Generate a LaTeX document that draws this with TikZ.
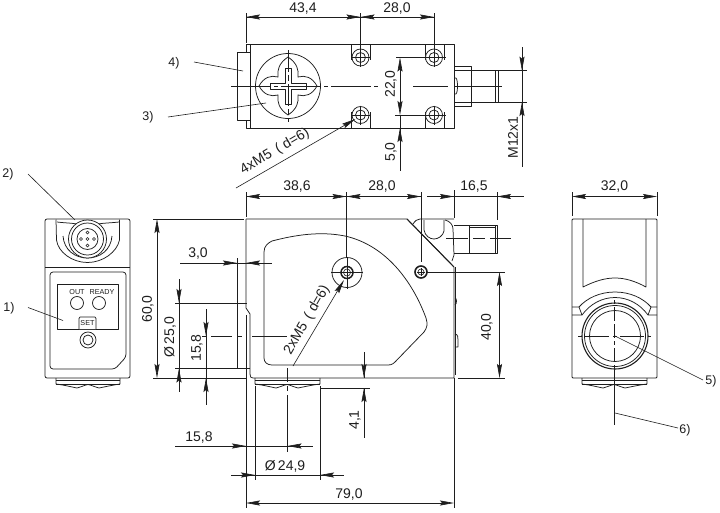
\documentclass[tikz,border=0pt]{standalone}
\usepackage{fontspec}
\setmainfont{Liberation Sans}
\usetikzlibrary{arrows.meta}
\definecolor{ink}{HTML}{1E1E1E}
\tikzset{
  part/.style={draw=ink,line width=.75pt,line join=round},
  dimline/.style={draw=ink,line width=.6pt},
  tipline/.style={draw=ink,line width=.6pt,-{Stealth[length=14pt,width=5pt,inset=2pt]}},
  twotip/.style={draw=ink,line width=.6pt,{Stealth[length=14pt,width=5pt,inset=2pt]}-{Stealth[length=14pt,width=5pt,inset=2pt]}},
  lbl/.style={font=\fontsize{14}{14}\selectfont,text=ink,inner sep=0pt},
  ref/.style={font=\fontsize{12.5}{12.5}\selectfont,text=ink,inner sep=0pt},
  small/.style={font=\fontsize{7.2}{7.2}\selectfont,text=ink,inner sep=0pt},
  rot/.style={lbl,rotate=90}
}
\newcommand{\mounthole}[2]{%
  \draw[part] (#1-9.5,#2) -- (#1+9.5,#2) (#1,#2-9.5) -- (#1,#2+9.5);
  \draw[part] (#1,#2) circle (8.5) (#1,#2) circle (5);
  \draw[dimline] (#1-2.5,#2) -- (#1+2.5,#2) (#1,#2-2.5) -- (#1,#2+2.5);
}
\newcommand{\lensbase}[2]{%
  \draw[part] (#1,378) -- (#1,384) .. controls (#1+8,385) and (#1+16,387) .. (#1+21,388) .. controls (#1+25,387) and (#1+29,385) .. (#1+32,384.5) .. controls (#1+35,385) and (#1+39,387) .. (#1+43,388) .. controls (#1+48,387) and (#1+57,385) .. (#2,384) -- (#2,378);
  \draw[part] (#1,380.5) -- (#2,380.5) (#1,384) -- (#2,384);
}
\begin{document}
\begin{tikzpicture}[x=1pt,y=-1pt]
\useasboundingbox (0,0) rectangle (720,512);
\fill[white] (0,0) rectangle (720,512);

%%%%% TOP VIEW
\draw[part] (246,128) -- (246,44) -- (454,44) -- (454,128) -- cycle;
\draw[part] (250,44) -- (250,128);
\draw[part,fill=white] (237,52) rectangle (250,120);
\draw[part] (288,86) circle (32.5);
\draw[part] (288,57) .. controls (297,63) and (299,70) .. (298,77) .. controls (305,75) and (312,77) .. (317,86) .. controls (312,95) and (305,97) .. (298,95) .. controls (299,102) and (297,109) .. (288,115) .. controls (279,109) and (277,102) .. (278,95) .. controls (271,97) and (264,95) .. (259,86) .. controls (264,77) and (271,75) .. (278,77) .. controls (277,70) and (279,63) .. (288,57) -- cycle;
\draw[part] (285,68) -- (291,68) -- (291,83) -- (306,83) -- (306,89) -- (291,89) -- (291,104) -- (285,104) -- (285,89) -- (270,89) -- (270,83) -- (285,83) -- cycle;
\draw[dimline,dash pattern=on 40pt off 3pt on 4pt off 3pt] (231,86) -- (380,86);
\draw[dimline,dash pattern=on 22pt off 3pt on 6pt off 3pt] (288,50) -- (288,122);
\draw[part] (351,44) -- (351,60) (370,44) -- (370,60) (425,44) -- (425,60) (444,44) -- (444,60);
\draw[part] (351,128) -- (351,112) (370,128) -- (370,112) (425,128) -- (425,112) (444,128) -- (444,112);
\fill[white] (360.5,57.5) circle (8.5) (434,57.5) circle (8.5) (360.5,115) circle (8.5) (434,115) circle (8.5);
\mounthole{360.5}{57.5}
\mounthole{434}{57.5}
\mounthole{360.5}{115}
\mounthole{434}{115}
\draw[part] (454,66.5) -- (471,66.5) -- (471,106) -- (454,106);
\draw[part] (454,78) -- (456,78) .. controls (458,80) and (458,92) .. (456,94) -- (454,94);
\draw[part] (454,70.7) -- (498,70.7) -- (498,102) -- (454,102);
\draw[part] (495,70.7) -- (495,102);
\draw[dimline] (413,86) -- (448,86) (454,86) -- (502,86);

% top view dimensions
\draw[dimline] (246,13) -- (246,43) (360.5,13) -- (360.5,66) (434,13) -- (434,66);
\draw[dimline] (246,17) -- (434,17);
\draw[tipline] (260,17) -- (246,17);
\draw[tipline] (346,17) -- (360.5,17);
\draw[tipline] (375,17) -- (360.5,17);
\draw[tipline] (420,17) -- (434,17);
\node[lbl] (d434) at (303,9) {43,4};
\node[lbl] (d280a) at (397,9) {28,0};
\draw[dimline] (396,57.5) -- (446,57.5) (395,115) -- (446,115);
\draw[twotip] (400,57.5) -- (400,115);
\draw[dimline] (400,115) -- (400,171);
\draw[tipline] (400,143) -- (400,128);
\node[rot] (d220) at (391,84) {22,0};
\node[rot] (d50) at (391,152) {5,0};
\draw[dimline] (496,70.7) -- (527,70.7) (496,102) -- (527,102);
\draw[dimline] (522,47) -- (522,167);
\draw[tipline] (522,56) -- (522,70.7);
\draw[tipline] (522,116) -- (522,102);
\node[rot] (dm12) at (513,137.5) {M12x1};
\coordinate (l4s) at (194,62);
\coordinate (l4e) at (243,71);
\node[ref] (n4) at (174,63) {4)};
\draw[dimline] (l4s) -- (l4e);
\node[ref] (n3) at (148,117) {3)};
\coordinate (l3s) at (168,117);
\coordinate (l3e) at (266,103);
\draw[dimline] (l3s) -- (l3e);
\coordinate (hs) at (236,188);
\coordinate (he) at (355.5,119);
\draw[tipline] (hs) -- (he);
\node[lbl,rotate=30.5] (d4xm5) at (275,151.5) {4xM5 \,( d=6)};

%%%%% SIDE VIEW
\draw[part] (246,219) -- (407,219) -- (454,267);
\draw[part] (246,219) -- (246,308) -- (250,314) -- (250,374) .. controls (250,377) and (251,378) .. (253,378) -- (454,378) -- (454,267);
\draw[line width=1pt,draw=ink] (407,219) -- (453,266);
\draw[line width=1pt,draw=ink] (455,267) -- (455,375);
\draw[part] (413,224) .. controls (415,221) and (417,219) .. (420,219) -- (454,219);
\draw[part] (424,220) -- (424,230) .. controls (425,236) and (430,239) .. (434,239) .. controls (438,239) and (443,236) .. (444,231) -- (444,220);
\draw[part] (445,220) .. controls (450,221) and (453,225) .. (453,229) -- (454,255) -- (452,261);
\draw[part] (455,298) .. controls (457,298) and (457,304) .. (455,305);
\draw[part] (455,334) .. controls (458,334) and (458,338) .. (458,340) -- (458,347) -- (455,347);
\draw[part] (454,225) -- (497,225) -- (497,253) -- (454,253);
\draw[part] (469,225) -- (469,253);
\draw[part] (495,225) -- (495,253) (469,227) -- (495,227);
\draw[dimline,dash pattern=on 22pt off 5pt on 12pt off 5pt] (446,238) -- (511,238);
% window
\draw[part] (264,252) .. controls (264,246) and (268,243) .. (272,241) .. controls (295,235) and (320,231) .. (345,236) .. controls (385,245) and (412,280) .. (426,318) .. controls (428,324) and (427,328) .. (424,332) -- (395,362) .. controls (392,365) and (390,365) .. (386,365) -- (272,365) .. controls (267,365) and (264,362) .. (264,358) -- cycle;
% holes
\draw[part,fill=white] (347,272.5) circle (15);
\draw[line width=1.5pt,draw=ink] (347,272.5) circle (6);
\draw[dimline] (347,272.5) circle (3.5);
\draw[dimline] (331,272.5) -- (363,272.5) (347,257) -- (347,289);
\draw[line width=1.6pt,draw=ink,fill=white] (421,272) circle (6);
\draw[dimline] (421,272) circle (3);
\draw[dimline] (417,272) -- (425,272) (421,268) -- (421,276);
% lens
\lensbase{255}{320}
\draw[dimline,dash pattern=on 14pt off 4pt on 5pt off 4pt] (287.5,368) -- (287.5,398);
\draw[dimline] (287.5,398) -- (287.5,452);
\draw[dimline,dash pattern=on 4pt off 5pt on 21pt off 5pt on 5pt off 10pt on 35pt] (202,336) -- (287,336);

% side view dimensions
\draw[dimline] (246,192) -- (246,217) (346.5,192) -- (346.5,258) (421,192) -- (421,262) (454,190) -- (454,218) (497,192) -- (497,220);
\draw[dimline] (246,196.5) -- (421,196.5);
\draw[tipline] (260,196.5) -- (246,196.5);
\draw[tipline] (332,196.5) -- (346.5,196.5);
\draw[tipline] (361,196.5) -- (346.5,196.5);
\draw[tipline] (407,196.5) -- (421,196.5);
\draw[dimline] (427,196.5) -- (524,196.5);
\draw[tipline] (440,196.5) -- (454,196.5);
\draw[tipline] (511,196.5) -- (497,196.5);
\node[lbl] (d386) at (297,187) {38,6};
\node[lbl] (d280b) at (382,187) {28,0};
\node[lbl] (d165) at (474,187) {16,5};
% 60,0
\draw[dimline] (153,219) -- (244,219) (153,378) -- (247,378);
\draw[twotip] (157,219) -- (157,378);
\node[rot] (d600) at (148,309) {60,0};
% 3,0
\draw[dimline] (180,263) -- (272,263);
\draw[tipline] (223,263) -- (237,263);
\draw[tipline] (260,263) -- (246,263);
\draw[dimline] (237,258) -- (237,368.5);
\node[lbl] (d30) at (198,254) {3,0};
% diam 25
\draw[dimline] (175,303) -- (247,303) (175,368.5) -- (250,368.5);
\draw[dimline] (179,279) -- (179,392);
\draw[tipline] (179,289) -- (179,303);
\draw[tipline] (179,383) -- (179,368.5);
\node[rot] (d250) at (170,337) {Ø\,25,0};
% 15,8 vertical
\draw[dimline] (206,309) -- (206,405);
\draw[tipline] (206,322) -- (206,336);
\draw[tipline] (206,392) -- (206,378);
\node[rot] (d158v) at (197,348) {15,8};
% 2xM5
\coordinate (ms) at (293,366);
\coordinate (me) at (344,280);
\draw[tipline] (ms) -- (me);
\node[lbl,rotate=60] (d2xm5) at (307,320) {2xM5 \,( d=6)};
% 40,0
\draw[dimline] (427,272) -- (505,272) (458,378) -- (505,378);
\draw[twotip] (499.5,272) -- (499.5,378);
\node[rot] (d400) at (487,327) {40,0};
% 4,1
\draw[dimline] (320,388) -- (370,388);
\draw[dimline] (364,352) -- (364,378) (364,388) -- (364,438);
\draw[tipline] (364,364) -- (364,378);
\draw[tipline] (364,402) -- (364,388);
\node[rot] (d41) at (355,420) {4,1};
% bottom dims
\draw[dimline] (246,378) -- (246,508) (454,378) -- (454,508);
\draw[dimline] (246,315) -- (246,378);
\draw[dimline] (255,386) -- (255,480) (320,386) -- (320,480);
\draw[dimline] (175,446) -- (313,446);
\draw[tipline] (232,446) -- (246,446);
\draw[tipline] (301,446) -- (287.5,446);
\node[lbl] (d158h) at (199,437) {15,8};
\draw[dimline] (231,475) -- (344,475);
\draw[tipline] (241,475) -- (255,475);
\draw[tipline] (334,475) -- (320,475);
\node[lbl] (d249) at (285,466) {Ø\,24,9};
\draw[twotip] (246,503) -- (454,503);
\node[lbl] (d790) at (349,494) {79,0};

%%%%% RIGHT VIEW
\draw[part,rounded corners=1pt] (572,219) rectangle (657,378);
\draw[part] (583,219) -- (583,287) .. controls (595,281) and (605,278) .. (615,278) .. controls (625,278) and (635,281) .. (646,287) -- (646,219);
\draw[part] (579,307) .. controls (587,298) and (600,292) .. (615,292) .. controls (630,292) and (643,298) .. (651,307);
\draw[part] (582,315) .. controls (590,304) and (602,297.5) .. (615,297.5) .. controls (628,297.5) and (640,304) .. (648,315);
\draw[part] (572,307) -- (579,307) -- (582,315) -- (572,315);
\draw[part] (657,307) -- (651,307) -- (648,315) -- (657,315);
\draw[draw=ink,line width=1.1pt,fill=white] (615,336) circle (33);
\draw[part] (615,336) circle (30.5);
\draw[part] (615,336) circle (25.5);
\draw[dimline,dash pattern=on 4pt off 3pt on 24pt off 4pt] (578,336) -- (651,336);
\draw[dimline,dash pattern=on 4pt off 3pt on 14pt off 3pt on 14pt off 3pt] (614.5,300) -- (614.5,378);
\draw[dimline] (614.5,378) -- (614.5,425);
\lensbase{582}{647}
\draw[dimline] (572,192) -- (572,216) (657,192) -- (657,216);
\draw[twotip] (572,196.5) -- (657,196.5);
\node[lbl] (d320) at (614.5,187) {32,0};
\coordinate (l5s) at (615,336);
\coordinate (l5e) at (703,380);
\draw[dimline] (l5s) -- (l5e);
\node[ref] (n5) at (711,381) {5)};
\coordinate (l6s) at (615,413);
\coordinate (l6e) at (678,428);
\draw[dimline] (l6s) -- (l6e);
\node[ref] (n6) at (685,430) {6)};

%%%%% FRONT VIEW
\draw[part,rounded corners=2pt] (45,219) rectangle (130,378);
\draw[part] (45,267) -- (130,267);
\draw[part] (56,219.5) -- (56.5,240) .. controls (58,252) and (72,262.5) .. (87.5,262.5) .. controls (103,262.5) and (117,252) .. (119.5,240) -- (119.5,219.5);
\draw[part] (63,236) .. controls (64,250) and (75,258) .. (87.5,258) .. controls (100,258) and (111,250) .. (112,236);
\draw[part] (57,222) .. controls (65,223) and (72,223) .. (77,224);
\draw[part] (119,222) .. controls (110,223) and (103,223) .. (98,224);
\draw[part,fill=white] (87.5,239) circle (19);
\draw[part] (87.5,239) circle (16);
\draw[part] (87.5,239) circle (10.5);
\foreach \dx/\dy in {0/0,6.5/0,-6.5/0,0/6.5,0/-6.5}{\draw[draw=ink,line width=.5pt] (87.5+\dx,239+\dy) circle (1.5);}
\draw[part,rounded corners=3pt] (50,272) -- (126,272) -- (126,357) -- (115,369) -- (50,369) -- cycle;
\draw[part] (57,284) rectangle (118,329);
\draw[part] (77,303) circle (6.5) (99,303) circle (6.5);
\node[small] (tout) at (77,292.5) {OUT};
\node[small] (tready) at (102,292.5) {READY};
\draw[part,fill=white] (79,329) -- (79,318.5) -- (80,317) -- (95,317) -- (96,318.5) -- (96,329);
\node[small] (tset) at (87.5,323.5) {SET};
\draw[part] (88,340) circle (8) (88,340) circle (5);
\lensbase{56}{120}
\coordinate (l1s) at (28,307.5);
\coordinate (l1e) at (63,320.5);
\draw[dimline] (l1s) -- (l1e);
\node[ref] (n1) at (9,308) {1)};
\coordinate (l2s) at (28,174);
\coordinate (l2e) at (75,220);
\draw[dimline] (l2s) -- (l2e);
\node[ref] (n2) at (8,174) {2)};
\end{tikzpicture}
\end{document}
